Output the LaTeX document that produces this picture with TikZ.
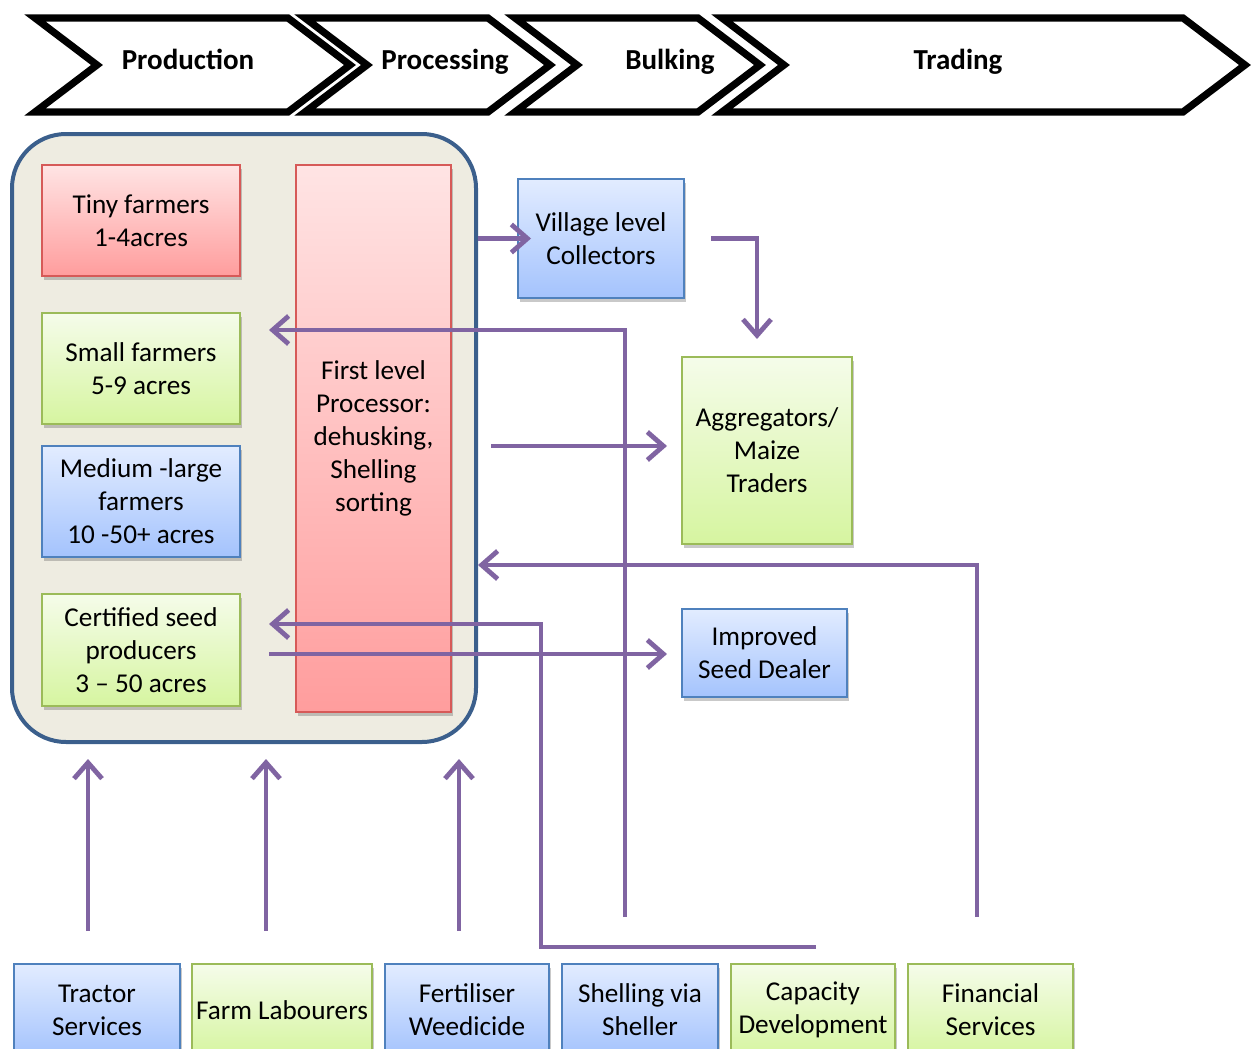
\documentclass[tikz,border=0pt]{standalone}
\usepackage{fontspec}
\setmainfont{Carlito}
\usetikzlibrary{arrows.meta,shadows,calc}
\definecolor{flowc}{HTML}{8064A2}
\definecolor{bluebd}{HTML}{4F81BD}
\definecolor{bluetop}{HTML}{E2ECFF}
\definecolor{bluebot}{HTML}{A4C3FD}
\definecolor{greenbd}{HTML}{9BBB59}
\definecolor{greentop}{HTML}{F5FCEA}
\definecolor{greenbot}{HTML}{D6F5A0}
\definecolor{redbd}{HTML}{D65A58}
\definecolor{redtop}{HTML}{FFE4E4}
\definecolor{redbot}{HTML}{FF9D9D}
\definecolor{groupfill}{HTML}{EEECE1}
\definecolor{groupbd}{HTML}{3B5F8C}
\begin{document}
\begin{tikzpicture}[x=0.5pt,y=-0.5pt,
  every node/.style={font=\fontsize{13.6}{16.5}\selectfont, align=center, inner sep=0pt},
  box/.style={rectangle, line width=1pt,
    drop shadow={shadow xshift=1.2pt, shadow yshift=-1.8pt, opacity=.3, fill=black!70}},
  bluebox/.style={box, draw=bluebd, top color=bluetop, bottom color=bluebot},
  greenbox/.style={box, draw=greenbd, top color=greentop, bottom color=greenbot},
  redbox/.style={box, draw=redbd, top color=redtop, bottom color=redbot},
  farmbox/.style={minimum width=99pt, minimum height=55.5pt},
  svcbox/.style={minimum height=46pt},
  stage/.style={draw=black, line width=3.6pt, line join=miter, fill=white},
  stagelabel/.style={font=\fontsize{14.5}{17}\selectfont\bfseries, anchor=base},
  flow/.style={draw=flowc, line width=2.4pt,
    -{Straight Barb[length=8pt,width=14pt,line width=2.4pt]}}
]
\useasboundingbox (0,0) rectangle (1253,1049);
\clip (0,0) rectangle (1253,1049);

% value chain stages
\draw[stage] (35,18) -- (288,18) -- (350,65) -- (288,112) -- (35,112) -- (97,65) -- cycle;
\draw[stage] (305,18) -- (488,18) -- (550,65) -- (488,112) -- (305,112) -- (367,65) -- cycle;
\draw[stage] (515,18) -- (698,18) -- (760,65) -- (698,112) -- (515,112) -- (577,65) -- cycle;
\draw[stage] (722,18) -- (1183,18) -- (1245,65) -- (1183,112) -- (722,112) -- (784,65) -- cycle;
\node[stagelabel] (sprod) at (188,69) {Production};
\node[stagelabel] (sproc) at (445,69) {Processing};
\node[stagelabel] (sbulk) at (670,69) {Bulking};
\node[stagelabel] (strad) at (958,69) {Trading};

% production and processing group
\node[draw=groupbd, fill=groupfill, line width=2pt, rounded corners=27pt,
      minimum width=232pt, minimum height=304pt] (group) at (244,438) {};

\node[redbox, farmbox] (tiny) at (141,220.5) {Tiny farmers\\1-4acres};
\node[greenbox, farmbox] (small) at (141,368.5) {Small farmers\\5-9 acres};
\node[bluebox, farmbox] (medium) at (141,501.5) {Medium -large\\farmers\\10 -50+ acres};
\node[greenbox, farmbox, minimum height=56pt] (cert) at (141,650) {Certified seed\\producers\\3 – 50 acres};
\node[redbox, minimum width=77.5pt, minimum height=273.5pt] (proc) at (373.5,438.5)
  {First level\\Processor:\\dehusking,\\Shelling\\sorting};

% trading actors
\node[bluebox, minimum width=83pt, minimum height=59.5pt] (vlc) at (601,238.5) {Village level\\Collectors};
\node[greenbox, minimum width=85pt, minimum height=93.5pt] (agg) at (767,450.5) {Aggregators/\\Maize\\Traders};
\node[bluebox, minimum width=82.5pt, minimum height=44pt] (isd) at (764.5,653) {Improved\\Seed Dealer};

% support services
\node[bluebox, svcbox, minimum width=83pt] (tractor) at (97,1010) {Tractor\\Services};
\node[greenbox, svcbox, minimum width=90pt] (labour) at (282,1010) {Farm Labourers};
\node[bluebox, svcbox, minimum width=82pt] (fert) at (467,1010) {Fertiliser\\Weedicide};
\node[bluebox, svcbox, minimum width=78pt] (shell) at (640,1010) {Shelling via\\Sheller};
\node[greenbox, svcbox, minimum width=82pt] (cap) at (813,1010) {Capacity\\Development};
\node[greenbox, svcbox, minimum width=82.5pt] (fin) at (990.5,1010) {Financial\\Services};

% flows
\draw[flow] (vlc.west -| group.east) -- ($(vlc.west)+(14,0)$);
\draw[flow] ($(vlc.east)+(26,0)$) -| ($(agg.north)+(-10,-17)$);
\draw[flow] ($(proc.east)+(39,7.5)$) -- ($(agg.west)+(-14,-4.5)$);
\draw[flow] ($(shell.north)+(-15,-46)$) |- ($(small.east)+(28,-38.5)$);
\draw[flow] ($(fin.north)+(-13.5,-46)$) |- ($(group.east)+(0,127)$);
\draw[flow] ($(cap.north)+(3,-16)$) -- ++(-275,0) |- ($(cert.east)+(28,-26)$);
\draw[flow] ($(cert.east)+(28,4)$) -- ($(isd.west)+(-14,1)$);
\draw[flow] ($(tractor.north)+(-9,-32)$) -- ++(0,-172);
\draw[flow] ($(labour.north)+(-16,-32)$) -- ++(0,-172);
\draw[flow] ($(fert.north)+(-8,-32)$) -- ++(0,-172);
\end{tikzpicture}
\end{document}
